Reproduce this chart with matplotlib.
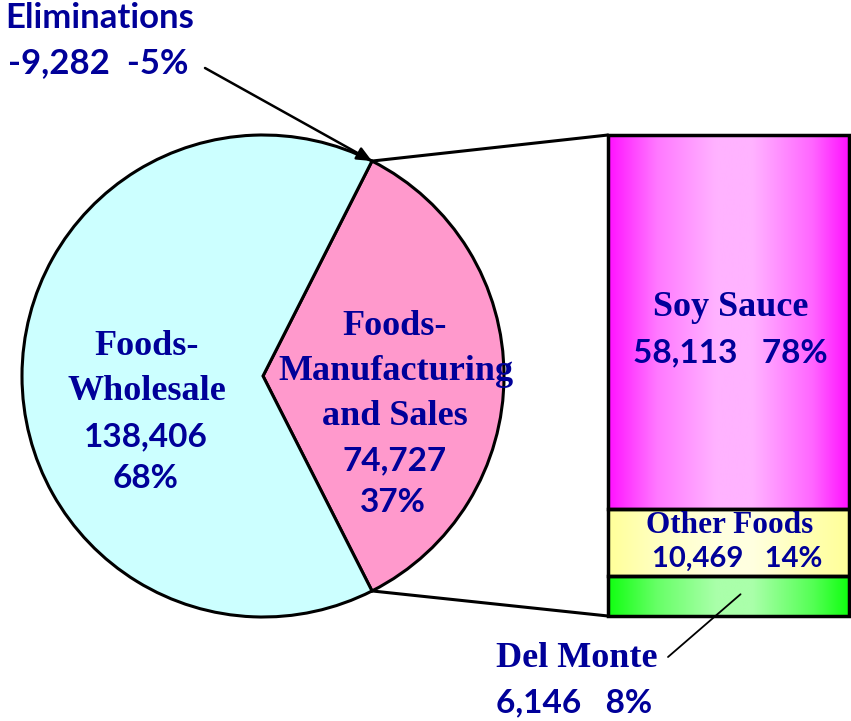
import numpy as np
import matplotlib
matplotlib.use("Agg")
import matplotlib.pyplot as plt
from matplotlib.patches import ConnectionPatch
from matplotlib.colors import LinearSegmentedColormap

# ---- data ----
pie_labels = ["Foods-Manufacturing\nand Sales", "Foods-Wholesale"]
pie_values = [74727, 138406]
pie_pcts = [37, 68]
elim_value = -9282
elim_pct = -5
bar_labels = ["Del Monte", "Other Foods", "Soy Sauce"]
bar_values = [6146, 10469, 58113]
bar_pcts = [8, 14, 78]

W, H = 851, 721
fig = plt.figure(figsize=(W / 100, H / 100), dpi=100)
NAVY = "#000099"
SERIF = "Liberation Serif"
SANS = "Lato"

def fbox(l, t, r, b):
    return [l / W, (H - b) / H, (r - l) / W, (b - t) / H]

# ---- pie ----
axp = fig.add_axes(fbox(22, 135, 504, 617))
frac = pie_values[0] / sum(pie_values)
wedges, _ = axp.pie(pie_values, colors=["#FF99CC", "#CCFFFF"],
                    startangle=-frac * 180, counterclock=True,
                    wedgeprops=dict(edgecolor="black", linewidth=2.2))
for w in wedges:
    w.set_clip_on(False)
axp.set_xlim(-1, 1)
axp.set_ylim(-1, 1)
axp.axis("off")

# ---- stacked bar ----
axb = fig.add_axes(fbox(608, 135, 849, 616))
total = sum(bar_values)
cmaps = {
    "Del Monte": [(0, "#11FF11"), (0.2, "#66FF66"), (0.45, "#AAFFAA"), (0.6, "#AAFFAA"), (0.85, "#55FF55"), (1, "#11FF11")],
    "Other Foods": [(0, "#FFFF99"), (0.2, "#FFFFC0"), (0.45, "#FFFFE0"), (0.6, "#FFFFE0"), (0.85, "#FFFFB0"), (1, "#FFFF99")],
    "Soy Sauce": [(0, "#FF11FF"), (0.2, "#FF77FF"), (0.45, "#FFB3FF"), (0.6, "#FFB3FF"), (0.85, "#FF66FF"), (1, "#FF11FF")],
}
bottoms = np.concatenate([[0], np.cumsum(bar_values)[:-1]])
for lab, v, b in zip(bar_labels, bar_values, bottoms):
    rect = axb.bar(0, v, bottom=b, width=1.0, color="none",
                   edgecolor="black", linewidth=2.5, zorder=3)[0]
    rect.set_clip_on(False)
    cm = LinearSegmentedColormap.from_list(lab, cmaps[lab])
    grad = np.linspace(0, 1, 256).reshape(1, -1)
    im = axb.imshow(grad, cmap=cm, extent=(-0.5, 0.5, b, b + v),
                    aspect="auto", zorder=2, interpolation="bicubic")
axb.set_xlim(-0.5, 0.5)
axb.set_ylim(0, total)
axb.axis("off")

# ---- connectors from pie wedge edges to bar corners ----
theta = np.deg2rad(frac * 180)
for sgn, ybar in [(1, total), (-1, 0)]:
    cp = ConnectionPatch(xyA=(np.cos(theta), sgn * np.sin(theta)), coordsA=axp.transData,
                         xyB=(-0.5, ybar), coordsB=axb.transData,
                         color="black", linewidth=2.2)
    fig.add_artist(cp)

# ---- overlay for text ----
ax = fig.add_axes([0, 0, 1, 1])
ax.set_xlim(0, W)
ax.set_ylim(H, 0)
ax.axis("off")

def txt(x, y, s, fam, size, ha="center"):
    ax.text(x, y, s, fontfamily=fam, fontweight="bold", fontsize=size,
            color=NAVY, ha=ha, va="baseline")

# Eliminations
txt(5, 28, "Eliminations", SANS, 25, ha="left")
txt(8, 73, f"{elim_value:,}  {elim_pct}%", SANS, 25, ha="left")
ax.annotate("", xy=(np.cos(theta), np.sin(theta)), xycoords=axp.transData,
            xytext=(205, 68), textcoords=ax.transData,
            arrowprops=dict(arrowstyle="-|>,head_length=0.9,head_width=0.4",
                            color="black", lw=1.8, shrinkA=0, shrinkB=0))

# Foods-Wholesale
l1, l2 = pie_labels[1].split("-")
txt(147, 355, l1 + "-", SERIF, 26)
txt(147, 400, l2, SERIF, 26)
txt(146, 446, f"{pie_values[1]:,}", SANS, 24)
txt(146, 488, f"{pie_pcts[1]}%", SANS, 24)

# Foods-Manufacturing and Sales
a, rest = pie_labels[0].split("-", 1)
m1, m2 = rest.split("\n")
txt(395, 335, a + "-", SERIF, 26)
txt(396, 380, m1, SERIF, 26)
txt(395, 425, m2, SERIF, 26)
txt(395, 470, f"{pie_values[0]:,}", SANS, 24)
txt(393, 512, f"{pie_pcts[0]}%", SANS, 24)

# Soy Sauce
txt(731, 316, bar_labels[2], SERIF, 26)
txt(730, 362, f"{bar_values[2]:,}   {bar_pcts[2]}%", SANS, 24)
# Other Foods
txt(730, 533, bar_labels[1], SERIF, 22.5)
txt(737, 567, f"{bar_values[1]:,}   {bar_pcts[1]}%", SANS, 21)
# Del Monte
txt(496, 667, bar_labels[0], SERIF, 26, ha="left")
txt(496, 712, f"{bar_values[0]:,}   {bar_pcts[0]}%", SANS, 24, ha="left")
ax.annotate("", xy=(0.05, bar_values[0] * 0.55), xycoords=axb.transData,
            xytext=(668, 657), textcoords=ax.transData,
            arrowprops=dict(arrowstyle="-", color="black", lw=1.3,
                            shrinkA=0, shrinkB=0))

fig.savefig("out.png", dpi=100, facecolor="white")
